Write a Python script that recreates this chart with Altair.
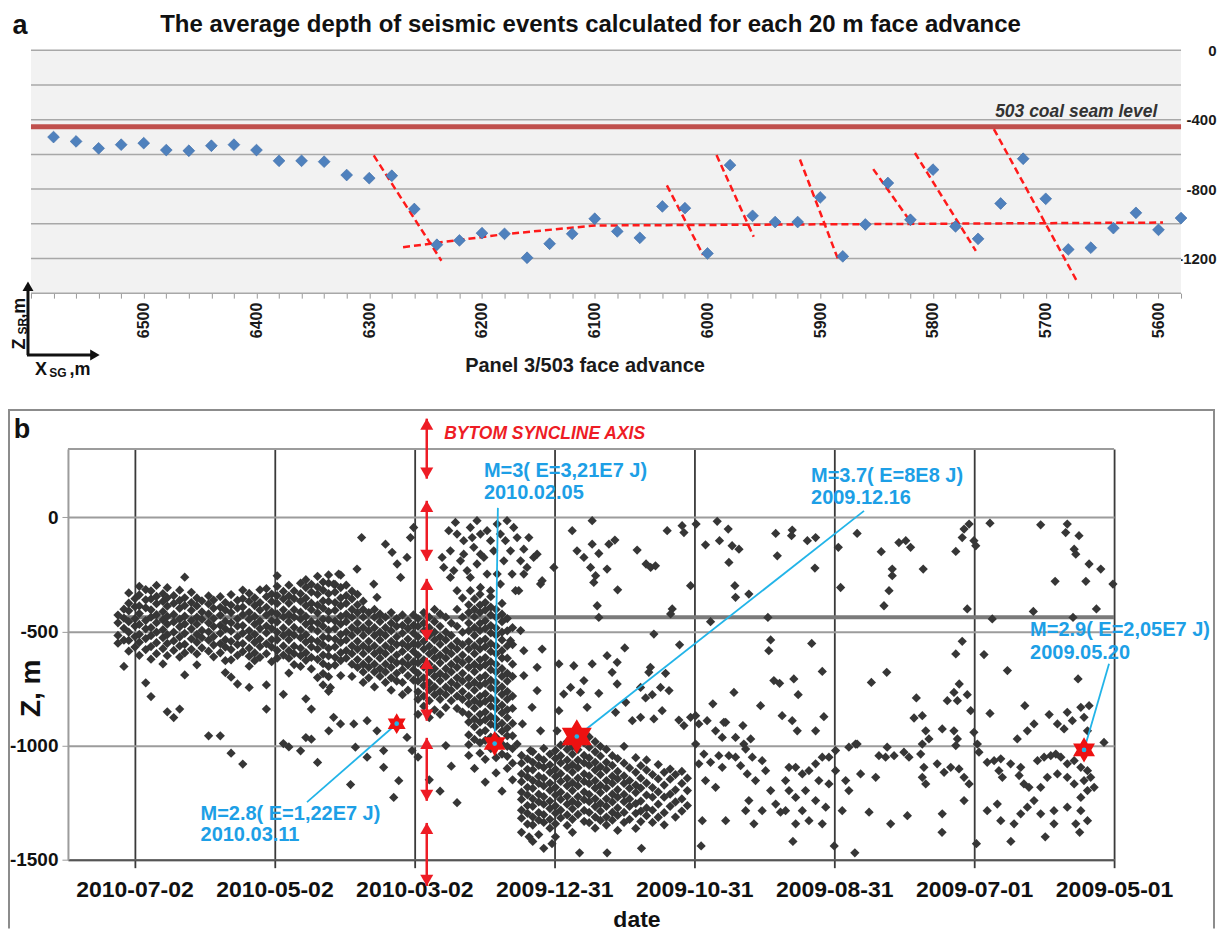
import json
import altair as alt
import pandas as pd

FONT = "Liberation Sans"
RED = "#ee1c25"
BLUE = "#1d9fe6"
CYAN = "#22b4e8"

# ===================== Panel a data =====================
FACE_ADVANCE = [6580, 6560, 6540, 6520, 6500, 6480, 6460, 6440, 6420, 6400,
                6380, 6360, 6340, 6320, 6300, 6280, 6260, 6240, 6220, 6200,
                6180, 6160, 6140, 6120, 6100, 6080, 6060, 6040, 6020, 6000,
                5980, 5960, 5940, 5920, 5900, 5880, 5860, 5840, 5820, 5800,
                5780, 5760, 5740, 5720, 5700, 5680, 5660, 5640, 5620, 5600, 5580]
AVG_DEPTH = [-500, -525, -565, -544, -535, -575, -579, -550, -544, -575,
             -637, -637, -642, -719, -737, -723, -915, -1121, -1096, -1054,
             -1058, -1196, -1115, -1058, -971, -1044, -1081, -900, -910, -1171,
             -662, -954, -990, -990, -848, -1188, -1004, -765, -977, -688,
             -1015, -1087, -883, -625, -856, -1148, -1138, -1025, -937, -1035, -967]
SEAM_LEVEL_A = -440
TREND_X = [6270, 6180, 6100, 5596]
TREND_Y = [-1135, -1060, -1010, -993]
FAULT_X1 = [6296, 6036, 5992, 5918, 5853, 5816, 5746]
FAULT_Y1 = [-606, -779, -604, -629, -685, -592, -454]
FAULT_X2 = [6236, 6004, 5959, 5884, 5820, 5762, 5673]
FAULT_Y2 = [-1213, -1179, -1075, -1208, -987, -1156, -1323]
A_XTICKS = list(range(5580, 6601, 20))
A_YTICKS = [0, -200, -400, -600, -800, -1000, -1200, -1400]
TITLE_A = "The average depth of seismic events calculated for each 20 m face advance"

# ===================== Panel b data =====================
# x = days counted from 2009-05-01, depth in m
DATE_TICK_DAYS = [0, 61, 122, 183, 244, 305, 366, 427]
DATE_LABELS = ["2009-05-01", "2009-07-01", "2009-08-31", "2009-10-31",
               "2009-12-31", "2010-03-02", "2010-05-02", "2010-07-02"]

BAND_SUMMER_2010 = [
    "434.2: -428 -462 -517 -551",
    "431.6: -402 -441 -486 -538 -653",
    "429.5: -331 -376 -409 -457 -503 -539 -586",
    "426.8: -356 -391 -444 -476 -522 -568",
    "424.9: -302 -339 -388 -421 -469 -512 -547 -604",
    "422.1: -316 -361 -396 -452 -488 -531 -579 -725",
    "419.8: -322 -357 -405 -437 -483 -518 -566 -621 -785",
    "417.4: -298 -346 -378 -426 -461 -503 -549 -597",
    "414.6: -334 -368 -413 -449 -492 -527 -575 -642",
    "412.7: -308 -352 -389 -434 -468 -514 -552 -606 -852",
    "409.9: -343 -377 -425 -458 -503 -541 -583 -877",
    "407.3: -319 -364 -398 -446 -479 -524 -563 -612 -840",
    "405.1: -262 -352 -386 -433 -467 -508 -556 -594 -690",
    "402.2: -328 -373 -407 -452 -488 -532 -578",
    "399.8: -353 -388 -437 -468 -513 -547 -598 -646",
    "397.6: -366 -414 -447 -495 -527 -572",
    "394.7: -344 -379 -423 -462 -501 -538 -586 -957",
    "392.5: -362 -398 -443 -478 -522 -559 -611",
    "389.6: -347 -394 -428 -473 -507 -553 -593 -957",
    "387.4: -373 -406 -455 -488 -536 -568 -628 -680",
    "384.9: -338 -384 -417 -462 -498 -543 -579 -624 -700 -1033",
    "382.1: -363 -397 -445 -476 -523 -557 -604 -730",
    "379.8: -318 -356 -393 -426 -474 -507 -553 -588 -1081",
    "377.0: -333 -368 -416 -447 -496 -527 -573 -608 -652 -745",
    "374.6: -352 -386 -434 -468 -512 -547 -594 -628",
    "372.3: -317 -373 -406 -454 -487 -533 -566 -613",
    "369.5: -312 -347 -394 -427 -476 -506 -554 -597 -734 -840",
    "367.2: -336 -368 -414 -453 -487 -535 -568 -632",
    "364.8: -256 -302 -343 -377 -423 -458 -503 -536 -583 -617",
    "362.1: -324 -357 -405 -436 -484 -517 -563 -603 -775 -991",
    "359.7: -297 -344 -376 -425 -457 -504 -536 -584 -617 -682 -1006",
    "357.4: -322 -356 -404 -437 -482 -516 -564 -597 -645",
    "354.6: -288 -334 -367 -415 -446 -494 -527 -573 -606 -653 -1023",
    "352.3: -273 -307 -354 -386 -434 -467 -514 -546 -593 -626 -795 -965",
    "349.9: -293 -327 -376 -404 -457 -486 -535 -567 -613 -664 -840 -972",
    "347.2: -258 -305 -337 -384 -418 -463 -498 -543 -577 -622 -702 -1074",
    "344.8: -283 -318 -366 -397 -446 -477 -524 -558 -603 -641 -684 -734",
    "342.4: -252 -288 -334 -368 -413 -448 -494 -528 -574 -607 -653 -698 -762",
]
BAND_MARCH_2010 = [
    "339.6: -293 -327 -373 -407 -454 -487 -533 -567 -613 -647",
    "337.1: -253 -307 -353 -387 -433 -467 -513 -547 -593 -627 -693",
    "334.7: -297 -343 -377 -424 -457 -503 -537 -584 -617",
    "332.2: -323 -357 -403 -437 -483 -517 -563 -597 -643 -697",
    "329.8: -337 -383 -417 -463 -497 -543 -577 -623 -657",
    "327.3: -367 -403 -437 -483 -517 -563 -597 -643 -677 -723",
    "324.9: -417 -463 -497 -543 -577 -623 -657 -703",
    "322.4: -403 -437 -483 -517 -563 -597 -643 -677 -743",
    "320.0: -423 -457 -503 -537 -583 -617 -663 -697",
    "317.6: -437 -483 -517 -563 -597 -643 -677 -723",
    "315.1: -417 -463 -497 -543 -577 -623 -657 -703 -757",
    "312.7: -443 -477 -523 -557 -603 -637 -683 -717",
    "310.2: -427 -473 -507 -553 -587 -633 -667 -723 -777",
    "307.8: -453 -487 -533 -567 -613 -647 -693 -757",
    "305.4: -427 -473 -507 -553 -587 -633 -667 -713",
]
CLUSTER_FEB_2010 = [
    "303.4: -443 -477 -523 -557 -604 -637 -683 -717 -764 -797 -863 -1050",
    "300.9: -417 -463 -497 -543 -577 -624 -656 -703 -737 -783 -827",
    "298.5: -437 -483 -517 -564 -597 -643 -677 -724 -756 -803 -877 -1150",
    "296.2: -403 -457 -503 -537 -583 -617 -663 -697 -743 -777 -843",
    "293.8: -423 -477 -523 -556 -603 -637 -684 -716 -763 -797 -863 -1200",
    "291.3: -437 -503 -537 -583 -617 -663 -697 -744 -777 -833 -1000",
    "288.9: -463 -517 -563 -597 -643 -677 -723 -757 -803 -1090",
    "286.4: -403 -477 -543 -577 -623 -657 -703 -737 -783 -837 -1250",
    "284.0: -353 -437 -503 -557 -603 -637 -683 -717 -763 -797 -853",
]
COLUMN_FEB_2010 = [
    "281.3: -383 -417 -463 -497 -544 -577 -623 -657 -704 -737 -783 -817 -864 -897 -953 -996 -1043",
    "278.8: -357 -403 -436 -483 -517 -563 -597 -644 -676 -723 -757 -803 -836 -884 -917 -973 -1100",
    "276.4: -337 -384 -417 -464 -496 -543 -577 -624 -656 -703 -737 -784 -816 -863 -897 -943 -987 -1033",
    "274.1: -373 -406 -453 -487 -533 -567 -614 -646 -693 -727 -773 -806 -853 -887 -934 -977 -1060 -1160",
    "271.7: -347 -393 -427 -474 -506 -553 -587 -633 -667 -713 -746 -793 -827 -873 -906 -963 -1013",
    "269.4: -403 -437 -484 -516 -563 -597 -643 -677 -723 -756 -803 -837 -884 -916 -963 -997 -1053 -1120",
    "266.8: -377 -424 -457 -503 -537 -584 -616 -663 -697 -743 -776 -823 -857 -903 -937 -993 -1037 -1200",
    "264.5: -443 -497 -563 -617 -683 -717 -763 -797 -843 -877 -923 -957 -1003 -1047 -1100",
    "262.2: -483 -557 -643 -697 -783 -837 -903 -957 -1013 -1077 -1150",
]
CLUSTER_JAN_2010 = [
    "258.3: -1043 -1077 -1124 -1158 -1204 -1236 -1283 -1318 -1380",
    "255.7: -1058 -1104 -1137 -1183 -1216 -1263 -1297 -1344",
    "253.4: -1027 -1073 -1106 -1153 -1187 -1234 -1266 -1313 -1348 -1420",
    "250.8: -1052 -1087 -1134 -1166 -1213 -1247 -1294 -1327 -1390",
    "248.6: -1012 -1063 -1096 -1143 -1177 -1224 -1257 -1303 -1337 -1450",
    "245.9: -1037 -1084 -1117 -1164 -1196 -1243 -1276 -1323 -1362",
    "243.5: -1022 -1057 -1104 -1136 -1183 -1217 -1264 -1296 -1343 -1400",
    "241.2: -998 -1044 -1076 -1123 -1157 -1204 -1236 -1283 -1317",
    "238.4: -983 -1017 -1064 -1097 -1144 -1176 -1223 -1257 -1304 -1350",
    "236.1: -1003 -1037 -1084 -1116 -1163 -1197 -1244 -1277 -1323 -1380",
    "233.7: -1018 -1064 -1097 -1143 -1177 -1224 -1256 -1302",
    "231.0: -988 -1043 -1076 -1124 -1157 -1203 -1237 -1284 -1332",
    "228.8: -962 -1007 -1054 -1087 -1133 -1167 -1214 -1246 -1293 -1338",
    "226.2: -983 -1027 -1073 -1107 -1154 -1186 -1233 -1267 -1313 -1362",
    "223.9: -1003 -1046 -1093 -1127 -1174 -1206 -1253 -1287 -1328",
    "221.3: -1017 -1073 -1106 -1153 -1186 -1233 -1266 -1313 -1348",
    "218.7: -1044 -1087 -1134 -1166 -1213 -1247 -1293 -1327",
    "216.4: -1057 -1113 -1146 -1193 -1226 -1273 -1306 -1372",
    "213.6: -1003 -1077 -1133 -1166 -1214 -1246 -1293 -1337",
    "211.2: -1098 -1153 -1187 -1234 -1266 -1323",
    "208.5: -1053 -1117 -1173 -1206 -1254 -1297 -1363",
    "206.3: -1088 -1143 -1186 -1243 -1287 -1333",
    "203.8: -1063 -1107 -1164 -1217 -1273 -1307",
    "201.2: -1127 -1184 -1226 -1283 -1337",
    "198.7: -1083 -1146 -1203 -1257 -1314",
    "196.1: -1117 -1173 -1226 -1294 -1347",
    "193.5: -1103 -1147 -1213 -1266",
    "191.2: -1127 -1194 -1247 -1313",
    "188.4: -1113 -1166 -1234 -1287",
    "186.0: -1143 -1197 -1263",
]
SCATTER_MARCH = [(341.6, -745), (342.3, -935), (337.2, -905), (330.7, -1007), (325.6, -1051),
                 (318.4, -1095), (311.8, -1154), (314, -1227), (306, -1022), (331.4, -905),
                 (340.2, -876), (325.6, -891), (321.3, -935), (308.2, -964), (318.4, -1022),
                 (332.8, -1171), (338, -248), (340.2, -292), (330, -226), (322.7, -292),
                 (321.3, -350), (328, -88), (317.6, -117), (306.7, -88), (305.3, -44),
                 (311, -263), (308.2, -175), (312.5, -204), (314.7, -153)]
SCATTER_UPPER_FEB = [(287.1, -22), (286.4, -73), (283.5, -102), (280.6, -44), (277.7, -14),
                     (276.2, -73), (279.1, -131), (289.3, -146), (292.2, -219), (284.9, -190),
                     (282, -233), (277.7, -204), (274.7, -175), (271.8, -102), (268.9, -29),
                     (264.6, -14), (261.7, -44), (260.2, -88), (263.1, -146), (266, -190),
                     (268.9, -248), (271.8, -321), (276.2, -307), (280.6, -321), (286.4, -321),
                     (289.3, -263), (292.9, -175), (287.8, -233), (283.5, -161), (273.3, -248),
                     (270.4, -146), (265.3, -102), (258.7, -190), (257.3, -248), (253, -175),
                     (250, -292), (262.4, -248), (260.9, -321), (290, -58), (279.8, -88),
                     (273.3, -58), (267.5, -73), (276.2, -161), (280.6, -263), (267.5, -292)]
SCATTER_JAN = [(255.1, -88), (257.3, -139), (251.5, -161), (255.9, -219), (249.3, -277),
               (259.5, -321), (236.2, -58), (234.1, -146), (231.1, -175), (228.2, -219),
               (244.2, -219), (257.3, -584), (249.3, -577), (257.3, -693), (251.5, -759),
               (242, -642), (235.5, -650), (231.1, -715), (239.9, -774), (232.6, -767),
               (242, -847), (253.7, -832), (257.9, -905), (250, -935), (260.2, -993),
               (254.4, -1022), (236.9, -745), (229.7, -832), (242.8, -935), (258.7, -496),
               (263.1, -540), (251.5, -657)]
SCATTER_AUTUMN_TOP = [(227.5, -14), (194.8, -58), (188.3, -36), (187.5, -66), (182.2, -29),
                      (173, -17), (168.2, -51), (147.5, -70), (140.3, -55), (140.6, -80),
                      (133.7, -102), (130.1, -88), (227.5, -117), (224.6, -158), (220.2, -117),
                      (217.6, -99), (207.9, -143), (204, -204), (202, -219), (199.9, -212),
                      (221, -226), (226, -255), (226.8, -285), (216.4, -317), (184.6, -299),
                      (178.1, -120), (172, -102), (166.5, -124), (163.5, -139), (167.9, -197),
                      (146.8, -168), (130.4, -222), (165.3, -299), (165, -350), (159.2, -336),
                      (225.3, -387), (224.6, -438), (192.6, -401), (193.3, -423), (175.9, -457),
                      (150.9, -438), (120.2, -131), (119.2, -307)]
SCATTER_AUTUMN_MID = [(200.6, -511), (189.4, -558), (213.3, -572), (221, -606), (216.6, -635),
                      (218.8, -679), (227.5, -642), (202.1, -657), (202.8, -679), (195.5, -683),
                      (216.6, -730), (224.6, -771), (206.4, -745), (197.7, -745), (194, -759),
                      (204.2, -791), (201.3, -777), (212.9, -810), (197, -847), (217.3, -854),
                      (210, -891), (206.4, -876), (200.6, -883), (189.7, -888), (187.5, -912),
                      (184.6, -876), (182.4, -869), (149.7, -537), (150.5, -584), (131.8, -552),
                      (148.3, -715), (145.8, -727), (139.6, -708), (137.7, -777), (165.7, -767),
                      (154.1, -825), (174.9, -817), (127.2, -675), (144.7, -869), (140.3, -891),
                      (138.1, -935), (126.5, -873), (130.1, -935), (161.8, -912), (169.3, -898)]
SCATTER_AUTUMN_LOW = [(181, -905), (177.4, -891), (173.7, -935), (170.8, -964), (170.1, -898),
                      (165, -964), (161.4, -993), (158.4, -971), (160.6, -1015), (157.7, -1051),
                      (182.4, -993), (178.8, -1037), (181, -1080), (175.9, -1073), (172.3, -1044),
                      (170.8, -1095), (167.9, -1044), (165, -1051), (162.8, -1088), (159.9, -1124),
                      (156.3, -1153), (153.4, -1066), (151.9, -1110), (149.7, -1197), (159.2, -1241),
                      (160.6, -1285), (153.4, -1285), (147.5, -1256), (145.4, -1292), (143.2, -1153),
                      (141.7, -1095), (138.8, -1095), (135.9, -1124), (133, -1110), (130.1, -1080),
                      (127.2, -1051), (128.7, -1153), (124.3, -1168), (141.7, -1197), (138.8, -1227),
                      (134.5, -1197), (130.1, -1241), (125.7, -1270), (135.9, -1285), (138.8, -1343),
                      (127.2, -1343), (115.6, -1007), (112.7, -993), (121.4, -1110), (117, -1153),
                      (115.6, -1197), (178.1, -1153), (173.7, -1183), (169.3, -1329), (179.5, -1329),
                      (157, -1343), (143.2, -1285), (133, -1329), (124.3, -1051), (121.4, -1022),
                      (118.5, -1285)]
SCATTER_SUMMER_TOP = [(112, -70), (101.5, -150), (93.8, -110), (90.8, -102), (88.7, -131),
                      (96.7, -226), (96.7, -255), (98.1, -321), (100.3, -387), (83.2, -226),
                      (69, -149), (65.4, -51), (63.2, -29), (66.2, -88), (61.1, -102),
                      (60.3, -124), (64, -401), (54.1, -25), (32, -32), (20.4, -29),
                      (21.1, -66), (15.3, -80), (17.4, -139), (16.7, -161), (10.9, -204),
                      (5.8, -226), (25.7, -280), (12.3, -280), (0.5, -292), (35.2, -412),
                      (53.1, -445), (17.9, -438), (7.7, -401)]
SCATTER_SUMMER_MID = [(66.2, -543), (69, -598), (56.7, -601), (46.5, -671), (99.1, -679),
                      (105.8, -723), (67.5, -730), (69.8, -767), (72.7, -803), (68.3, -803),
                      (64, -777), (86.2, -791), (87.2, -879), (83.6, -869), (62.5, -847),
                      (54.1, -859), (38.9, -825), (15.7, -708), (74.9, -927), (82.1, -935),
                      (80.7, -971), (83.6, -993), (69.8, -935), (68.3, -971), (69, -1000),
                      (61.1, -942), (59.6, -993), (58.9, -1029), (42.2, -971), (37.8, -935),
                      (34.9, -905), (28.3, -864), (24.7, -905), (21.8, -927), (20.4, -854),
                      (18.2, -891), (14.5, -832), (10.9, -825), (13.1, -876), (11.6, -935),
                      (4.4, -986), (112, -993)]
SCATTER_SUMMER_LOW = [(98.9, -1007), (102.5, -1044), (99.6, -1051), (95.9, -1044), (91.6, -1029),
                      (89.4, -1051), (84.3, -1037), (82.9, -1095), (83.6, -1139), (82.1, -1168),
                      (77.1, -1080), (74.1, -1117), (71.2, -1095), (67.6, -1102), (65.4, -1139),
                      (63.2, -1168), (110.5, -1124), (103.9, -1139), (55.3, -1073), (52.3, -1066),
                      (49.4, -1058), (50.2, -1110), (48.7, -1139), (45.1, -1080), (40.7, -1095),
                      (41.4, -1131), (37.1, -1183), (39.3, -1168), (33.4, -1066), (30.5, -1051),
                      (27.6, -1044), (25.4, -1037), (23.2, -1051), (20.4, -1080), (17.4, -1066),
                      (14.5, -1095), (11.6, -1110), (13.1, -1153), (10.2, -1139), (8.7, -1183),
                      (11.6, -1197), (14.5, -1227), (17.4, -1168), (20.4, -1139), (24.7, -1124),
                      (29.1, -1139), (32, -1183), (34.9, -1241), (37.8, -1270), (40.7, -1299),
                      (32, -1299), (26.2, -1285), (20.4, -1270), (14.5, -1285), (11.6, -1329),
                      (16.7, -1343), (26.2, -1343), (43.6, -1343), (49.4, -1329), (55.3, -1285),
                      (50.9, -1256), (106.8, -1292), (97.4, -1343), (90.1, -1307), (74.9, -1299),
                      (65.4, -1241)]
SCATTER_DEEPEST = [(221, -1470), (206, -1450), (180, -1440), (140, -1420), (122, -1440),
                   (113, -1470), (45, -1420), (30, -1400), (15, -1380), (75, -1380),
                   (60, -1430), (245, -1430), (255, -1400), (233, -1470)]

SEAM_LEVEL_B = -437
SEAM_FROM_DAY = 434
SYNCLINE_DAY = 299.6
ARROW_TOP = [433, 73, -269, -615, -966, -1339]
ARROW_BOTTOM = [170, -190, -541, -891, -1242, -1615]

STAR_DAY = [312.7, 270.0, 234.2, 13.1]
STAR_DEPTH = [-904, -991, -960, -1019]
STAR_SIZE = [430, 640, 1200, 640]
LEADER_DAY = [351.8, 268.6, 109.0, 2.2]
LEADER_DEPTH = [-1248, 42, 29, -641]
NOTE_DAY = [398.2, 398.2, 274.7, 274.7, 132.1, 132.1, 36.6, 36.6]
NOTE_DEPTH = [-1298, -1390, 204, 108, 183, 86, -492, -593]
NOTE_TEXT = ["M=2.8( E=1,22E7 J)", "2010.03.11", "M=3( E=3,21E7 J)", "2010.02.05",
             "M=3.7( E=8E8 J)", "2009.12.16", "M=2.9( E=2,05E7 J)", "2009.05.20"]

HEXAGRAM = ("M0,-1L0.289,-0.5L0.866,-0.5L0.577,0L0.866,0.5L0.289,0.5L0,1"
            "L-0.289,0.5L-0.866,0.5L-0.577,0L-0.866,-0.5L-0.289,-0.5Z")


def expand_columns(cols):
    rows = []
    for s in cols:
        d, vals = s.split(":")
        for v in vals.split():
            rows.append((float(d), float(v)))
    return rows


scatter_rows = []
for block in (BAND_SUMMER_2010, BAND_MARCH_2010, CLUSTER_FEB_2010, COLUMN_FEB_2010, CLUSTER_JAN_2010):
    scatter_rows += expand_columns(block)
for block in (SCATTER_MARCH, SCATTER_UPPER_FEB, SCATTER_JAN, SCATTER_AUTUMN_TOP, SCATTER_AUTUMN_MID,
              SCATTER_AUTUMN_LOW, SCATTER_SUMMER_TOP, SCATTER_SUMMER_MID, SCATTER_SUMMER_LOW,
              SCATTER_DEEPEST):
    scatter_rows += list(block)
events = pd.DataFrame(scatter_rows, columns=["d", "z"])

one = pd.DataFrame({"k": [0]})


def txt(text, x, y, size, angle=0, italic=False, color="#111111", align="center"):
    kw = dict(text=text, align=align, baseline="middle", fontSize=size, fontWeight="bold", color=color)
    if angle:
        kw["angle"] = angle
    if italic:
        kw["fontStyle"] = "italic"
    return alt.Chart(one).mark_text(**kw).encode(x=alt.value(x), y=alt.value(y))


# ===================== Panel a =====================
# plot origin shared with panel b (page x = 68); panel a plot spans page x 31..1182
WA, HA = 1114, 243
A_LEFT = -37
xa = alt.Scale(domain=[5580, 6600], reverse=True, nice=False, zero=False, range=[A_LEFT, WA])
ya = alt.Scale(domain=[-1400, 0], nice=False, zero=False)

xa_axis = alt.Axis(values=A_XTICKS,
                   labelExpr="datum.value % 100 == 0 && datum.value < 6600 ? '' + datum.value : ''",
                   labelAngle=270, labelFontSize=16, labelFontWeight="bold", labelColor="#1a1a1a",
                   labelPadding=4, labelOverlap=False, labelFlush=False, labelBound=False,
                   tickSize=5, tickColor="#9a9a9a", tickWidth=1, domain=False, grid=False,
                   title="Panel 3/503 face advance", titleFontSize=20, titleFontWeight="bold",
                   titleColor="#1a1a1a", titleX=517, titleY=72, titleBaseline="middle", titleAlign="center")
ya_axis = alt.Axis(orient="right", values=A_YTICKS,
                   labelExpr="datum.value % 400 == 0 ? '' + datum.value : ''",
                   grid=False, tickSize=0, domain=False, labelAlign="right", labelPadding=35,
                   labelOverlap=False, labelFontSize=15, labelFontWeight="bold", labelColor="#1a1a1a",
                   title=None)


def XA(f):
    return alt.X(f, scale=xa, axis=xa_axis)


def YA(f):
    return alt.Y(f, scale=ya, axis=ya_axis)


face_df = pd.DataFrame({"x": FACE_ADVANCE, "y": AVG_DEPTH})
dash_rows = []
for i, (x, y) in enumerate(zip(TREND_X, TREND_Y)):
    dash_rows.append({"seg": "trend", "i": i, "x": x, "y": y})
for j in range(len(FAULT_X1)):
    dash_rows.append({"seg": f"f{j}", "i": 0, "x": FAULT_X1[j], "y": FAULT_Y1[j]})
    dash_rows.append({"seg": f"f{j}", "i": 1, "x": FAULT_X2[j], "y": FAULT_Y2[j]})
dash_df = pd.DataFrame(dash_rows)
seam_a_df = pd.DataFrame({"y": [SEAM_LEVEL_A]})
seam_label_df = pd.DataFrame({"x": [5601], "y": [-357], "t": ["503 coal seam level"]})

bg = alt.Chart(one).mark_rect(color="#f2f2f2").encode(
    x=alt.value(A_LEFT), x2=alt.value(WA), y=alt.value(0), y2=alt.value(HA))
grid_a = alt.Chart(pd.DataFrame({"y": A_YTICKS})).mark_rule(color="#a8a8a8", strokeWidth=1.5).encode(
    y=YA("y:Q"), x=alt.value(A_LEFT), x2=alt.value(WA))
seam_a = alt.Chart(seam_a_df).mark_rule(color="#c0504d", strokeWidth=5).encode(
    y=YA("y:Q"), x=alt.value(A_LEFT), x2=alt.value(WA))
dashes = alt.Chart(dash_df).mark_line(color="#ff1a1a", strokeWidth=2.5, strokeDash=[7, 4]).encode(
    x=XA("x:Q"), y=YA("y:Q"), detail="seg:N", order="i:Q")
pts_a = alt.Chart(face_df).mark_point(shape="diamond", filled=True, size=140, color="#4f81bd",
                                      opacity=1, stroke="#3b6aa6", strokeWidth=0.6).encode(
    x=XA("x:Q"), y=YA("y:Q"))
seam_label = alt.Chart(seam_label_df).mark_text(align="right", baseline="middle",
                                                fontSize=17.5, fontStyle="italic", fontWeight="bold",
                                                color="#333333").encode(
    x=XA("x:Q"), y=YA("y:Q"), text="t:N")
title_a = txt(TITLE_A, 523, -25, 24)
label_a = txt("a", -48, -24, 27)
# small axis symbol bottom-left
ax_v = alt.Chart(one).mark_rule(color="#111111", strokeWidth=3).encode(
    x=alt.value(-40), y=alt.value(236), y2=alt.value(305))
ax_h = alt.Chart(one).mark_rule(color="#111111", strokeWidth=3).encode(
    x=alt.value(-41), x2=alt.value(27), y=alt.value(305))
ax_up = alt.Chart(one).mark_point(shape="triangle-up", filled=True, size=120, color="#111111",
                                  opacity=1).encode(x=alt.value(-40), y=alt.value(236))
ax_right = alt.Chart(one).mark_point(shape="triangle-right", filled=True, size=120, color="#111111",
                                     opacity=1).encode(x=alt.value(27), y=alt.value(305))
z1 = txt("Z", -48, 294, 18, angle=270)
z2 = txt("SR", -45, 276, 12, angle=270)
z3 = txt(",m", -48, 258, 18, angle=270)
x1 = txt("X", -27, 320, 18)
x2 = txt("SG", -10, 323, 12)
x3 = txt(",m", 12, 320, 18)
extent_a = alt.Chart(one).mark_rule(opacity=0).encode(
    x=alt.value(0), y=alt.value(-42), y2=alt.value(330))

panel_a = alt.layer(bg, grid_a, seam_a, dashes, pts_a, seam_label, title_a, label_a,
                    ax_v, ax_h, ax_up, ax_right, z1, z2, z3, x1, x2, x3, extent_a
                    ).properties(width=WA, height=HA)

# ===================== Panel b =====================
WB, HB = 1047, 411
xb = alt.Scale(domain=[0, 456], reverse=True, nice=False, zero=False)
yb = alt.Scale(domain=[-1500, 300], nice=False, zero=False)
date_expr = json.dumps(DATE_LABELS).replace('"', "'") + "[round(datum.value / 61)]"

xb_axis = alt.Axis(values=DATE_TICK_DAYS, labelExpr=date_expr, grid=True, gridColor="#3a3a3a",
                   gridWidth=1.8, tickSize=8, tickColor="#3a3a3a", tickWidth=1.8,
                   domain=True, domainColor="#555555", domainWidth=2,
                   labelFontSize=23, labelFontWeight="bold", labelColor="#111111", labelPadding=11,
                   labelOverlap=False, labelFlush=False, labelBound=False,
                   title="date", titleFontSize=23, titleFontWeight="bold", titleColor="#111111",
                   titleX=569, titleY=60, titleBaseline="middle", titleAlign="center")
yb_axis = alt.Axis(values=[-1500, -1000, -500, 0], labelExpr="'' + datum.value", grid=True,
                   gridColor="#9c9c9c", gridWidth=2, tickSize=6, tickColor="#9c9c9c",
                   domain=True, domainColor="#9c9c9c", domainWidth=2,
                   labelFontSize=19, labelFontWeight="bold", labelColor="#111111", labelPadding=4,
                   labelOverlap=False,
                   title="Z, m", titleFontSize=28, titleFontWeight="bold", titleColor="#111111",
                   titleX=-36, titleY=239, titleAlign="center", titleBaseline="middle", titleAngle=270)


def XB(f):
    return alt.X(f, scale=xb, axis=xb_axis)


def YB(f):
    return alt.Y(f, scale=yb, axis=yb_axis)


top_df = pd.DataFrame({"z": [300]})
seam_b_df = pd.DataFrame({"d": [SEAM_FROM_DAY], "d2": [0], "z": [SEAM_LEVEL_B]})
sync_df = pd.DataFrame({"d": [292], "z": [367], "t": ["BYTOM SYNCLINE AXIS"]})

top_line = alt.Chart(top_df).mark_rule(color="#9c9c9c", strokeWidth=2).encode(y=YB("z:Q"))
seam_b = alt.Chart(seam_b_df).mark_rule(color="#7a7a7a", strokeWidth=4).encode(
    x=XB("d:Q"), x2="d2:Q", y=YB("z:Q"))
pts_b = alt.Chart(events).mark_point(shape="diamond", filled=True, size=86, color="#363636",
                                     opacity=1).encode(x=XB("d:Q"), y=YB("z:Q"))

leader_df = pd.DataFrame({"d": STAR_DAY, "z": STAR_DEPTH, "d2": LEADER_DAY, "z2": LEADER_DEPTH})
leaders = alt.Chart(leader_df).mark_rule(color=CYAN, strokeWidth=1.8).encode(
    x=XB("d:Q"), x2="d2:Q", y=YB("z:Q"), y2="z2:Q")
star_df = pd.DataFrame({"d": STAR_DAY, "z": STAR_DEPTH, "s": STAR_SIZE})
stars = alt.Chart(star_df).mark_point(shape=HEXAGRAM, filled=True, color="#ee1111", opacity=1).encode(
    x=XB("d:Q"), y=YB("z:Q"), size=alt.Size("s:Q", scale=None, legend=None))
star_dots = alt.Chart(star_df).mark_point(shape="circle", filled=True, size=22, color=CYAN,
                                          opacity=1).encode(x=XB("d:Q"), y=YB("z:Q"))

arrow_df = pd.DataFrame({"d": [SYNCLINE_DAY] * len(ARROW_TOP), "top": ARROW_TOP, "bot": ARROW_BOTTOM})
arrow_lines = alt.Chart(arrow_df).mark_rule(color=RED, strokeWidth=2.5).encode(
    x=XB("d:Q"), y=YB("top:Q"), y2="bot:Q")
arrow_up = alt.Chart(arrow_df).mark_point(shape="triangle-up", filled=True, size=170, color=RED,
                                          opacity=1, yOffset=5.5).encode(x=XB("d:Q"), y=YB("top:Q"))
arrow_down = alt.Chart(arrow_df).mark_point(shape="triangle-down", filled=True, size=170, color=RED,
                                            opacity=1, yOffset=-5.5).encode(x=XB("d:Q"), y=YB("bot:Q"))
syncline = alt.Chart(sync_df).mark_text(align="left", baseline="middle", fontSize=17.5,
                                        fontStyle="italic", fontWeight="bold", color=RED).encode(
    x=XB("d:Q"), y=YB("z:Q"), text="t:N")
note_df = pd.DataFrame({"d": NOTE_DAY, "z": NOTE_DEPTH, "t": NOTE_TEXT})
notes = alt.Chart(note_df).mark_text(align="left", baseline="middle", fontSize=20, fontWeight="bold",
                                     color=BLUE).encode(x=XB("d:Q"), y=YB("z:Q"), text="t:N")
label_b = txt("b", -46, -19, 27)
frame_top = alt.Chart(one).mark_rule(color="#8c8c8c", strokeWidth=2).encode(
    x=alt.value(-59), x2=alt.value(1148), y=alt.value(-39))
frame_left = alt.Chart(one).mark_rule(color="#8c8c8c", strokeWidth=2).encode(
    x=alt.value(-59), y=alt.value(-40), y2=alt.value(480))
frame_right = alt.Chart(one).mark_rule(color="#8c8c8c", strokeWidth=2).encode(
    x=alt.value(1147), y=alt.value(-40), y2=alt.value(480))

panel_b = alt.layer(top_line, seam_b, pts_b, leaders, stars, star_dots, arrow_lines, arrow_up,
                    arrow_down, syncline, notes, label_b, frame_top, frame_left, frame_right
                    ).properties(width=WB, height=HB)

chart = alt.vconcat(panel_a, panel_b, spacing=28).properties(padding=0).configure(
    font=FONT).configure_view(stroke=None)

chart.save("out.html", embed_options={"renderer": "svg", "actions": False})
